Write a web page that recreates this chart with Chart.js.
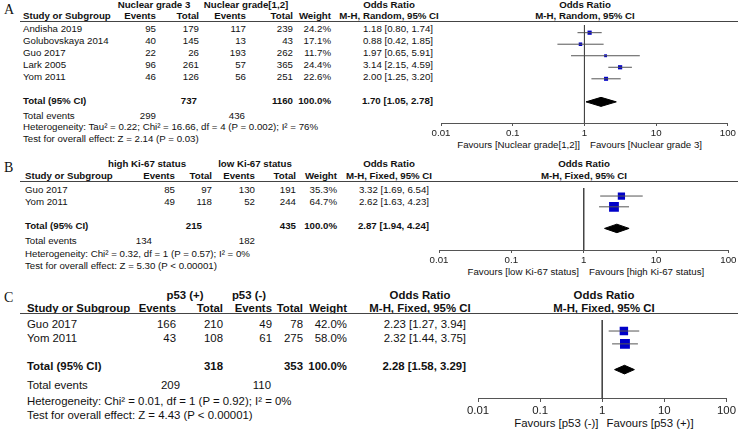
<!DOCTYPE html>
<html>
<head>
<meta charset="utf-8">
<script src="https://cdn.jsdelivr.net/npm/chart.js@4.4.1/dist/chart.umd.min.js"></script>
<style>
  body { margin: 0; background: #fff; width: 738px; height: 432px; position: relative; overflow: hidden;
         font-family: "Liberation Sans", Arial, sans-serif; color: #111; }
  .t { position: absolute; white-space: nowrap; line-height: 1; transform: translateY(-50%); }
  .rule { position: absolute; left: 20px; right: 0; height: 1px; background: #444; }
  canvas { position: absolute; left: 425px; }
</style>
</head>
<body>
<script>
// log axis
const TICKS = [0.01, 0.1, 1, 10, 100];
const TICK_LABELS = ["0.01", "0.1", "1", "10", "100"];

// A: nuclear grade 3 vs nuclear grade 1,2
const studiesA = ["Andisha 2019", "Golubovskaya 2014", "Guo 2017", "Lark 2005", "Yom 2011"];
const eventsA1 = [95, 40, 22, 96, 46];
const totalA1 = [179, 145, 26, 261, 126];
const eventsA2 = [117, 13, 193, 57, 56];
const totalA2 = [239, 43, 262, 365, 251];
const weightA = [24.2, 17.1, 11.7, 24.4, 22.6];
const orA = [1.18, 0.88, 1.97, 3.14, 2.00];
const loA = [0.80, 0.42, 0.65, 2.15, 1.25];
const hiA = [1.74, 1.85, 5.91, 4.59, 3.20];
const pooledA = [1.70, 1.05, 2.78];
const sumTotalA = [737, 1160];
const sumEventsA = [299, 436];

// B: high vs low Ki-67
const studiesB = ["Guo 2017", "Yom 2011"];
const eventsB1 = [85, 49];
const totalB1 = [97, 118];
const eventsB2 = [130, 52];
const totalB2 = [191, 244];
const weightB = [35.3, 64.7];
const orB = [3.32, 2.62];
const loB = [1.69, 1.63];
const hiB = [6.54, 4.23];
const pooledB = [2.87, 1.94, 4.24];
const sumTotalB = [215, 435];
const sumEventsB = [134, 182];

// C: p53 (+) vs p53 (-)
const studiesC = ["Guo 2017", "Yom 2011"];
const eventsC1 = [166, 43];
const totalC1 = [210, 108];
const eventsC2 = [49, 61];
const totalC2 = [78, 275];
const weightC = [42.0, 58.0];
const orC = [2.23, 2.32];
const loC = [1.27, 1.44];
const hiC = [3.94, 3.75];
const pooledC = [2.28, 1.58, 3.29];
const sumTotalC = [318, 353];
const sumEventsC = [209, 110];

const panels = [
  {
    label: "A", groups: ["Nuclear grade 3", "Nuclear grade[1,2]"], method: "M-H, Random, 95% CI",
    studies: studiesA, ev1: eventsA1, tot1: totalA1, ev2: eventsA2, tot2: totalA2,
    weight: weightA, or: orA, lo: loA, hi: hiA, pooled: pooledA, sumTotal: sumTotalA, sumEvents: sumEventsA,
    het: "Heterogeneity: Tau² = 0.22; Chi² = 16.66, df = 4 (P = 0.002); I² = 76%",
    test: "Test for overall effect: Z = 2.14 (P = 0.03)",
    favours: ["Favours [Nuclear grade[1,2]]", "Favours [Nuclear grade 3]"],
    L: { font: 9.7, labelY: 10, h1: 5, h2: 15.5, rule: 21, rowBase: 17, rowStep: 12, axis: 123,
         study: 23, ev1: 156, tot1: 199, ev2: 246, tot2: 293, wt: 331, or: 433,
         sumTot1: 197, g1: 154, g2: 246, orHead: 389, plotHead: 585,
         sumEv1: 156, sumEv2: 245, totEvY: 115.5, hetY: 127, testY: 139, favY: 145, favGap: 5,
         x0: 441, x1: 729, sq: 0.85, tickPad: 2 }
  },
  {
    label: "B", groups: ["high Ki-67 status", "low Ki-67 status"], method: "M-H, Fixed, 95% CI",
    studies: studiesB, ev1: eventsB1, tot1: totalB1, ev2: eventsB2, tot2: totalB2,
    weight: weightB, or: orB, lo: loB, hi: hiB, pooled: pooledB, sumTotal: sumTotalB, sumEvents: sumEventsB,
    het: "Heterogeneity: Chi² = 0.32, df = 1 (P = 0.57); I² = 0%",
    test: "Test for overall effect: Z = 5.30 (P < 0.00001)",
    favours: ["Favours [low Ki-67 status]", "Favours [high Ki-67 status]"],
    L: { font: 9.7, labelY: 168, h1: 164, h2: 176, rule: 181, rowBase: 178, rowStep: 12, axis: 250,
         study: 25, ev1: 175, tot1: 212, ev2: 255, tot2: 296, wt: 337, or: 429,
         sumTot1: 202, g1: 147, g2: 255, orHead: 389, plotHead: 584,
         sumEv1: 152, sumEv2: 255, totEvY: 241, hetY: 254, testY: 266, favY: 272, favGap: 5,
         x0: 439, x1: 729, sq: 1.22, tickPad: 1.5 }
  },
  {
    label: "C", groups: ["p53 (+)", "p53 (-)"], method: "M-H, Fixed, 95% CI",
    studies: studiesC, ev1: eventsC1, tot1: totalC1, ev2: eventsC2, tot2: totalC2,
    weight: weightC, or: orC, lo: loC, hi: hiC, pooled: pooledC, sumTotal: sumTotalC, sumEvents: sumEventsC,
    het: "Heterogeneity: Chi² = 0.01, df = 1 (P = 0.92); I² = 0%",
    test: "Test for overall effect: Z = 4.43 (P < 0.00001)",
    favours: ["Favours [p53 (-)]", "Favours [p53 (+)]"],
    L: { font: 11.4, labelY: 298, h1: 296, h2: 309, rule: 313, rowBase: 311, rowStep: 14, axis: 399,
         study: 27, ev1: 176, tot1: 223, ev2: 272, tot2: 303, wt: 347, or: 466,
         sumTot1: 223, g1: 185, g2: 249, orHead: 420, plotHead: 604,
         sumEv1: 180, sumEv2: 271, totEvY: 386, hetY: 402, testY: 416, favY: 424, favGap: 4,
         x0: 478, x1: 727, sq: 1.3, tickPad: 2 }
  }
];

function txt(s, x, y, o) {
  o = o || {};
  const d = document.createElement("div");
  d.className = "t";
  d.textContent = s;
  d.style.top = y + "px";
  d.style.fontSize = (o.size || 9.5) + "px";
  if (o.bold) d.style.fontWeight = "bold";
  if (o.serif) d.style.fontFamily = '"Liberation Serif", "Times New Roman", serif';
  const a = o.align || "l";
  if (a === "l") d.style.left = x + "px";
  else if (a === "r") d.style.right = (738 - x) + "px";
  else { d.style.left = x + "px"; d.style.transform = "translate(-50%,-50%)"; }
  document.body.appendChild(d);
}

const fmtOR = (e, l, h) => e.toFixed(2) + " [" + l.toFixed(2) + ", " + h.toFixed(2) + "]";

function drawPanel(p) {
  const L = p.L, f = L.font;
  const rowY = i => L.rowBase + L.rowStep * i;
  const n = p.studies.length;
  const totalRow = n + 2;

  txt(p.label, 4, L.labelY, { size: 14, serif: true });
  // header row 1
  txt(p.groups[0], L.g1, L.h1, { size: f, bold: true, align: "c" });
  txt(p.groups[1], L.g2, L.h1, { size: f, bold: true, align: "c" });
  txt("Odds Ratio", L.orHead, L.h1, { size: f, bold: true, align: "c" });
  txt("Odds Ratio", L.plotHead, L.h1, { size: f, bold: true, align: "c" });
  // header row 2
  txt("Study or Subgroup", L.study, L.h2, { size: f, bold: true });
  txt("Events", L.ev1, L.h2, { size: f, bold: true, align: "r" });
  txt("Total", L.tot1, L.h2, { size: f, bold: true, align: "r" });
  txt("Events", L.ev2, L.h2, { size: f, bold: true, align: "r" });
  txt("Total", L.tot2, L.h2, { size: f, bold: true, align: "r" });
  txt("Weight", L.wt, L.h2, { size: f, bold: true, align: "r" });
  txt(p.method, L.orHead, L.h2, { size: f, bold: true, align: "c" });
  txt(p.method, L.plotHead, L.h2, { size: f, bold: true, align: "c" });

  const rule = document.createElement("div");
  rule.className = "rule";
  rule.style.top = L.rule + "px";
  document.body.appendChild(rule);

  p.studies.forEach((s, i) => {
    const y = rowY(i + 1);
    txt(s, L.study, y, { size: f });
    txt(String(p.ev1[i]), L.ev1, y, { size: f, align: "r" });
    txt(String(p.tot1[i]), L.tot1, y, { size: f, align: "r" });
    txt(String(p.ev2[i]), L.ev2, y, { size: f, align: "r" });
    txt(String(p.tot2[i]), L.tot2, y, { size: f, align: "r" });
    txt(p.weight[i].toFixed(1) + "%", L.wt, y, { size: f, align: "r" });
    txt(fmtOR(p.or[i], p.lo[i], p.hi[i]), L.or, y, { size: f, align: "r" });
  });

  const ty = rowY(totalRow);
  txt("Total (95% CI)", L.study, ty, { size: f, bold: true });
  txt(String(p.sumTotal[0]), L.sumTot1, ty, { size: f, bold: true, align: "r" });
  txt(String(p.sumTotal[1]), L.tot2, ty, { size: f, bold: true, align: "r" });
  txt("100.0%", L.wt, ty, { size: f, bold: true, align: "r" });
  txt(fmtOR(p.pooled[0], p.pooled[1], p.pooled[2]), L.or, ty, { size: f, bold: true, align: "r" });

  txt("Total events", L.study, L.totEvY, { size: f });
  txt(String(p.sumEvents[0]), L.sumEv1, L.totEvY, { size: f, align: "r" });
  txt(String(p.sumEvents[1]), L.sumEv2, L.totEvY, { size: f, align: "r" });
  txt(p.het, L.study, L.hetY, { size: f });
  txt(p.test, L.study, L.testY, { size: f });

  const mid = L.x0 + (L.x1 - L.x0) / 2;
  txt(p.favours[0], mid - L.favGap, L.favY, { size: f, align: "r" });
  txt(p.favours[1], mid + L.favGap, L.favY, { size: f });

  // forest plot
  const cv = document.createElement("canvas");
  const scaleH = 22;
  cv.width = 313;
  cv.height = L.axis - L.rule + scaleH;
  cv.style.top = L.rule + "px";
  document.body.appendChild(cv);

  const yMin = (L.rule - L.rowBase) / L.rowStep;
  const yMax = (L.axis - L.rowBase) / L.rowStep;
  const dh = 4.7 / L.rowStep;

  const datasets = [];
  datasets.push({
    type: "line", data: [{ x: 1, y: yMin }, { x: 1, y: yMax }],
    borderColor: "#444", borderWidth: 1, pointRadius: 0
  });
  p.studies.forEach((s, i) => {
    datasets.push({
      type: "line", data: [{ x: p.lo[i], y: i + 1 }, { x: p.hi[i], y: i + 1 }],
      borderColor: "#555", borderWidth: 1, pointRadius: 0
    });
  });
  datasets.push({
    type: "scatter",
    data: p.or.map((v, i) => ({ x: v, y: i + 1 })),
    pointStyle: "rect",
    pointRadius: p.weight.map(w => L.sq * Math.sqrt(w) / Math.SQRT2),
    backgroundColor: "#0000c8", borderWidth: 0
  });
  const [pe, pl, ph] = p.pooled;
  datasets.push({
    type: "line",
    data: [{ x: pl, y: totalRow }, { x: pe, y: totalRow - dh }, { x: ph, y: totalRow },
           { x: pe, y: totalRow + dh }, { x: pl, y: totalRow }],
    borderColor: "#000", backgroundColor: "#000", borderWidth: 1, pointRadius: 0,
    fill: "shape", tension: 0
  });

  new Chart(cv, {
    data: { datasets },
    options: {
      responsive: false, animation: false, devicePixelRatio: 1, events: [],
      layout: { padding: { left: L.x0 - 425, right: 738 - L.x1, top: 0, bottom: 0 } },
      plugins: { legend: { display: false }, tooltip: { enabled: false } },
      scales: {
        x: {
          type: "logarithmic", min: TICKS[0], max: TICKS[TICKS.length - 1],
          afterBuildTicks: s => { s.ticks = TICKS.map(v => ({ value: v })); },
          afterFit: s => { s.height = scaleH; },
          ticks: {
            callback: v => TICK_LABELS[TICKS.indexOf(v)],
            font: { family: '"Liberation Sans", Arial, sans-serif', size: f },
            color: "#222", padding: L.tickPad, maxRotation: 0, autoSkip: false
          },
          grid: { drawOnChartArea: false, tickLength: 3, color: "#555" },
          border: { color: "#555" }
        },
        y: { type: "linear", display: false, reverse: true, min: yMin, max: yMax }
      }
    }
  });
}

panels.forEach(drawPanel);
</script>
</body>
</html>
